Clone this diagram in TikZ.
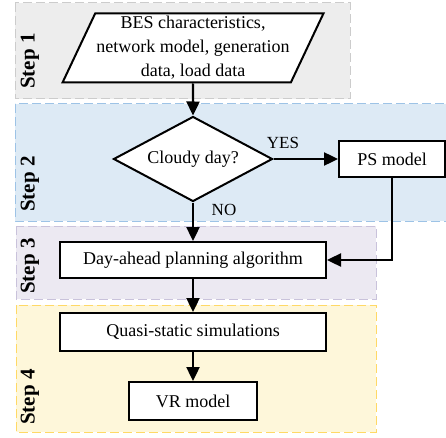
\documentclass[tikz,border=0pt]{standalone}
\usepackage{fontspec}
\setmainfont{Liberation Serif}
\usetikzlibrary{shapes.geometric}
\usetikzlibrary{arrows.meta}

\definecolor{graybg}{HTML}{EDEDED}
\definecolor{grayline}{HTML}{CCCCCC}
\definecolor{bluebg}{HTML}{DDEAF5}
\definecolor{blueline}{HTML}{9DC3E6}
\definecolor{purplebg}{HTML}{ECE9F2}
\definecolor{purpleline}{HTML}{C9C2DB}
\definecolor{yellowbg}{HTML}{FEF7DA}
\definecolor{yellowline}{HTML}{FFD966}

\tikzset{
  stepbox/.style={dash pattern=on 9pt off 4pt, line width=1pt},
  block/.style={solid, draw=black, fill=white, line width=2pt, inner sep=0pt, align=center,
    font=\fontsize{18}{24}\selectfont},
  flow/.style={solid, line width=2.4pt, -{Triangle[length=14pt,width=13pt]}},
  steplabel/.style={rotate=90, font=\fontsize{21}{24}\selectfont\bfseries},
  answer/.style={font=\fontsize{17}{20}\selectfont}
}

\begin{document}
\begin{tikzpicture}[x=1pt, y=1pt]
\useasboundingbox (0,0) rectangle (446,437);

\draw[stepbox, draw=grayline, fill=graybg] (15,434) rectangle (350,338);
\draw[stepbox, draw=blueline, fill=bluebg] (15,333) rectangle (470,216);
\draw[stepbox, draw=purpleline, fill=purplebg] (16,211) rectangle (376,138);
\draw[stepbox, draw=yellowline, fill=yellowbg] (16,132) rectangle (376,5);

\node[steplabel] (step1) at (30,376) {Step 1};
\node[steplabel] (step2) at (30,253) {Step 2};
\node[steplabel] (step3) at (30,171) {Step 3};
\node[steplabel] (step4) at (30,40) {Step 4};

\node[block, trapezium, trapezium left angle=63, trapezium right angle=117,
  trapezium stretches=true, minimum width=261pt, minimum height=69pt]
  (input) at (193,389) {BES characteristics,\\network model, generation\\data, load data};

\node[block, diamond, aspect=1.87, minimum width=159pt, minimum height=85pt]
  (cloudy) at (193,278) {Cloudy day?};
\node[block, minimum width=106pt, minimum height=36pt] (ps) at (392,278) {PS model};
\node[block, minimum width=266pt, minimum height=36pt] (day) at (193,177) {Day-ahead planning algorithm};
\node[block, minimum width=266pt, minimum height=38pt] (quasi) at (193,105) {Quasi-static simulations};
\node[block, minimum width=128pt, minimum height=38pt] (vr) at (193,36) {VR model};

\node[answer] (yes) at (283,294) {YES};
\node[answer] (no) at (224,227) {NO};

\draw[flow] (input) -- (cloudy);
\draw[flow] (cloudy) -- (ps);
\draw[flow] (cloudy) -- (day);
\draw[flow] (ps) |- (day);
\draw[flow] (day) -- (quasi);
\draw[flow] (quasi) -- (vr);

\end{tikzpicture}
\end{document}
